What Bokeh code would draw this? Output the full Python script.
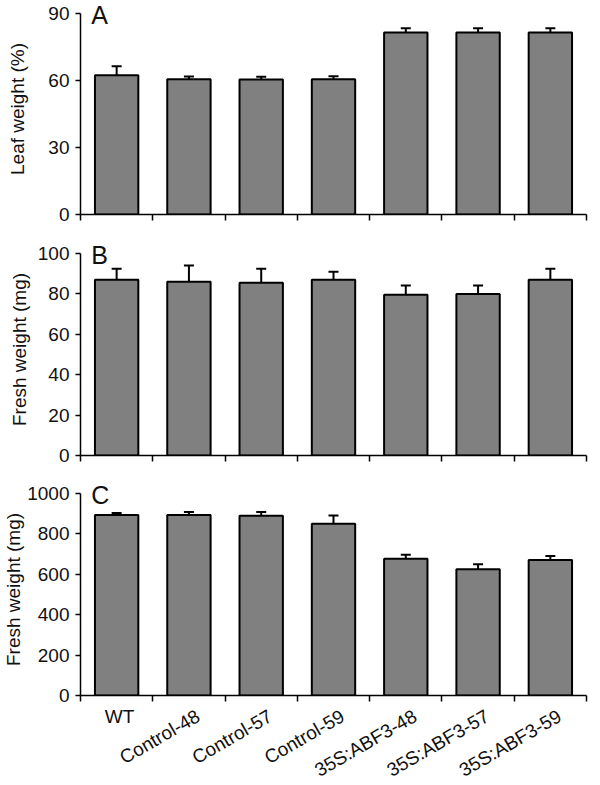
import math
from bokeh.plotting import figure
from bokeh.models import Range1d, FixedTicker, Whisker, TeeHead, Label, ColumnDataSource
from bokeh.layouts import column
from bokeh.core.properties import value
from bokeh.embed import file_html
from bokeh.resources import INLINE

categories = ["WT", "Control-48", "Control-57", "Control-59",
              "35S:ABF3-48", "35S:ABF3-57", "35S:ABF3-59"]
leaf_pct = [62.4, 60.6, 60.5, 60.6, 81.5, 81.5, 81.5]
leaf_err = [4.0, 1.2, 1.2, 1.3, 1.9, 1.9, 1.9]
fresh_b = [87.0, 86.0, 85.5, 87.0, 79.6, 80.0, 87.0]
fresh_b_err = [5.4, 8.0, 7.0, 4.0, 4.6, 4.2, 5.4]
fresh_c = [893, 893, 890, 850, 677, 625, 671]
fresh_c_err = [10, 16, 19, 41, 20, 25, 20]

ticks_a = [0, 30, 60, 90]
ticks_b = [0, 20, 40, 60, 80, 100]
ticks_c = [0, 200, 400, 600, 800, 1000]

FONT = "Liberation Sans"
TXT = "#111111"
WIDTH = 590
LEFT = 74
RIGHT = 4
N = len(categories)
xs = list(range(1, N + 1))
x_range = Range1d(0.5, N + 0.5)
boundaries = [x - 0.5 for x in xs] + [N + 0.5]


def panel(values, errs, ymax, yticks, ylabel, letter, top, plot_px, pad_px, bottom, lab_standoff):
    y_end = ymax + pad_px * ymax / plot_px
    p = figure(width=WIDTH, height=top + plot_px + pad_px + bottom,
               output_backend="svg", toolbar_location=None,
               x_range=x_range, y_range=Range1d(0, y_end),
               min_border_left=LEFT, min_border_right=RIGHT, min_border_top=top,
               min_border_bottom=bottom)
    p.outline_line_color = None
    p.xgrid.visible = False
    p.ygrid.visible = False
    src = ColumnDataSource(dict(x=xs, top=values,
                                upper=[v + e for v, e in zip(values, errs)]))
    w = Whisker(source=src, base="x", upper="upper", lower="top", dimension="height",
                line_color="black", line_width=2,
                upper_head=TeeHead(size=10, line_color="black", line_width=2),
                lower_head=None)
    p.add_layout(w)
    p.vbar(x="x", top="top", width=0.6, bottom=0, source=src,
           fill_color="#808080", line_color="black", line_width=2)

    ya = p.yaxis[0]
    ya.bounds = (0, ymax)
    ya.ticker = FixedTicker(ticks=yticks)
    ya.axis_label = ylabel
    ya.axis_label_text_font = FONT
    ya.axis_label_text_font_size = "19px"
    ya.axis_label_text_font_style = "normal"
    ya.axis_label_text_color = TXT
    ya.axis_label_standoff = lab_standoff
    ya.major_label_text_font = FONT
    ya.major_label_text_font_size = "19px"
    ya.major_label_text_color = TXT
    ya.major_label_standoff = 6
    ya.major_tick_out = 5
    ya.major_tick_in = 0
    ya.minor_tick_out = 0
    ya.minor_tick_in = 0
    ya.axis_line_width = 1.5
    ya.major_tick_line_width = 1.5
    ya.axis_line_color = "black"
    ya.major_tick_line_color = "black"

    # x axis: unlabeled ticks at the category boundaries (as minor ticks)
    xa = p.xaxis[0]
    xa.ticker = FixedTicker(ticks=[], minor_ticks=boundaries)
    xa.major_label_standoff = 0
    xa.major_tick_out = 0
    xa.major_tick_in = 0
    xa.minor_tick_out = 6
    xa.minor_tick_in = 0
    xa.axis_line_width = 1.5
    xa.minor_tick_line_width = 1.5
    xa.axis_line_color = "black"
    xa.minor_tick_line_color = "black"

    p.add_layout(Label(x=0.65, y=ymax, text=letter, text_font=FONT, text_font_size="25px",
                       text_color=TXT, text_align="left", text_baseline="middle",
                       y_offset=-1))
    return p


pA = panel(leaf_pct, leaf_err, 90, ticks_a, "Leaf weight (%)", "A", 3, 201, 10, 24, 17)
pB = panel(fresh_b, fresh_b_err, 100, ticks_b, "Fresh weight (mg)", "B", 5, 202, 10, 23, 5)
pC = panel(fresh_c, fresh_c_err, 1000, ticks_c, "Fresh weight (mg)", "C", 5, 202, 10, 12, 0)

# category labels drawn in a strip below panel C, sharing its x scale
LAB_H = 70
pL = figure(width=WIDTH, height=LAB_H, output_backend="svg", toolbar_location=None,
            x_range=x_range, y_range=Range1d(-LAB_H, 0),
            x_axis_location=None, y_axis_location=None,
            min_border_left=LEFT, min_border_right=RIGHT, min_border_top=0,
            min_border_bottom=0)
pL.outline_line_color = None
pL.xgrid.visible = False
pL.ygrid.visible = False
pL.text(x=xs[:1], y=[0], text=categories[:1], text_font=value(FONT),
        text_font_size="19px", text_color=TXT, text_align="center",
        text_baseline="top", x_offset=3, y_offset=-2)
pL.text(x=xs[1:], y=[0] * (N - 1), text=categories[1:], text_font=value(FONT),
        text_font_size="19px", text_color=TXT, text_align="right",
        text_baseline="top", angle=math.pi / 6, x_offset=4, y_offset=-2)

layout = column(pA, pB, pC, pL)
open("out.html", "w").write(file_html(layout, INLINE))
